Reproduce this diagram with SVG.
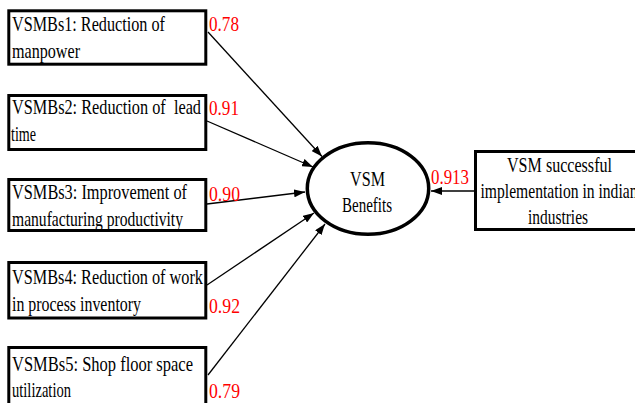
<svg xmlns="http://www.w3.org/2000/svg" width="635" height="403" viewBox="0 0 635 403">
<style>
.box{fill:#fff;stroke:#000;stroke-width:3}
text{font-family:'Liberation Serif','Times New Roman',serif;font-size:22px}
.t{fill:#000;white-space:pre}
.s{font-size:21px}
.c{text-anchor:middle}
.n{fill:#ff0000}
.ln{stroke:#000;stroke-width:1.3;fill:none;marker-end:url(#ah)}
</style>
<defs>
<marker id="ah" markerUnits="userSpaceOnUse" markerWidth="11" markerHeight="8" refX="11" refY="4" orient="auto">
<path d="M0,0 L11,4 L0,8 z" fill="#000"/>
</marker>
</defs>
<rect width="635" height="403" fill="#fff"/>
<g id="connectors">
<line class="ln" x1="208" y1="32" x2="322" y2="156.5"/>
<line class="ln" x1="207" y1="121" x2="313" y2="167"/>
<line class="ln" x1="207" y1="204" x2="305" y2="192"/>
<line class="ln" x1="207" y1="285" x2="314" y2="213"/>
<line class="ln" x1="208" y1="375" x2="325" y2="224"/>
<line class="ln" x1="474" y1="191" x2="431" y2="191"/>
</g>
<g id="vsmbs1">
<rect class="box" x="8.8" y="10.8" width="197" height="53.4"/>
<text class="t" x="12" y="31" textLength="153" lengthAdjust="spacingAndGlyphs">VSMBs1: Reduction of</text>
<text class="t" x="12" y="58" textLength="68" lengthAdjust="spacingAndGlyphs">manpower</text>
<text class="n" x="209" y="31" textLength="30" lengthAdjust="spacingAndGlyphs">0.78</text>
</g>
<g id="vsmbs2">
<rect class="box" x="8.8" y="95.5" width="197" height="54"/>
<text class="t" x="12" y="114" textLength="189" lengthAdjust="spacingAndGlyphs">VSMBs2: Reduction of  lead</text>
<text class="t" x="11" y="141" textLength="25" lengthAdjust="spacingAndGlyphs">time</text>
<text class="n" x="209" y="115" textLength="30" lengthAdjust="spacingAndGlyphs">0.91</text>
</g>
<g id="vsmbs3">
<rect class="box" x="8.8" y="179.5" width="197" height="51"/>
<text class="t" x="12" y="199" textLength="175" lengthAdjust="spacingAndGlyphs">VSMBs3: Improvement of</text>
<text class="t" x="12" y="226" textLength="171" lengthAdjust="spacingAndGlyphs">manufacturing productivity</text>
<text class="n" x="209" y="201" textLength="31" lengthAdjust="spacingAndGlyphs">0.90</text>
</g>
<g id="vsmbs4">
<rect class="box" x="8.8" y="262.5" width="197" height="55.5"/>
<text class="t" x="12" y="284" textLength="191" lengthAdjust="spacingAndGlyphs">VSMBs4: Reduction of work</text>
<text class="t" x="12" y="311" textLength="129" lengthAdjust="spacingAndGlyphs">in process inventory</text>
<text class="n" x="209" y="313" textLength="31" lengthAdjust="spacingAndGlyphs">0.92</text>
</g>
<g id="vsmbs5">
<rect class="box" x="8.8" y="347.5" width="197" height="70"/>
<text class="t" x="12" y="371" textLength="181" lengthAdjust="spacingAndGlyphs">VSMBs5: Shop floor space</text>
<text class="t" x="12" y="397" textLength="59" lengthAdjust="spacingAndGlyphs">utilization</text>
<text class="n" x="209" y="398" textLength="31" lengthAdjust="spacingAndGlyphs">0.79</text>
</g>
<g id="vsm-benefits">
<ellipse cx="368" cy="188.5" rx="60.7" ry="45.7" fill="#fff" stroke="#000" stroke-width="3.5"/>
<text class="t s c" x="367.5" y="186" textLength="35" lengthAdjust="spacingAndGlyphs">VSM</text>
<text class="t s c" x="367" y="212" textLength="50" lengthAdjust="spacingAndGlyphs">Benefits</text>
</g>
<g id="vsm-implementation">
<rect class="box" x="475.5" y="151.5" width="170" height="78"/>
<text class="t s c" x="559.5" y="172" textLength="105" lengthAdjust="spacingAndGlyphs">VSM successful</text>
<text class="t s c" x="559" y="198" textLength="157" lengthAdjust="spacingAndGlyphs">implementation in indian</text>
<text class="t s c" x="558" y="224" textLength="60" lengthAdjust="spacingAndGlyphs">industries</text>
<text class="n" x="431" y="184" textLength="38" lengthAdjust="spacingAndGlyphs">0.913</text>
</g>
</svg>
